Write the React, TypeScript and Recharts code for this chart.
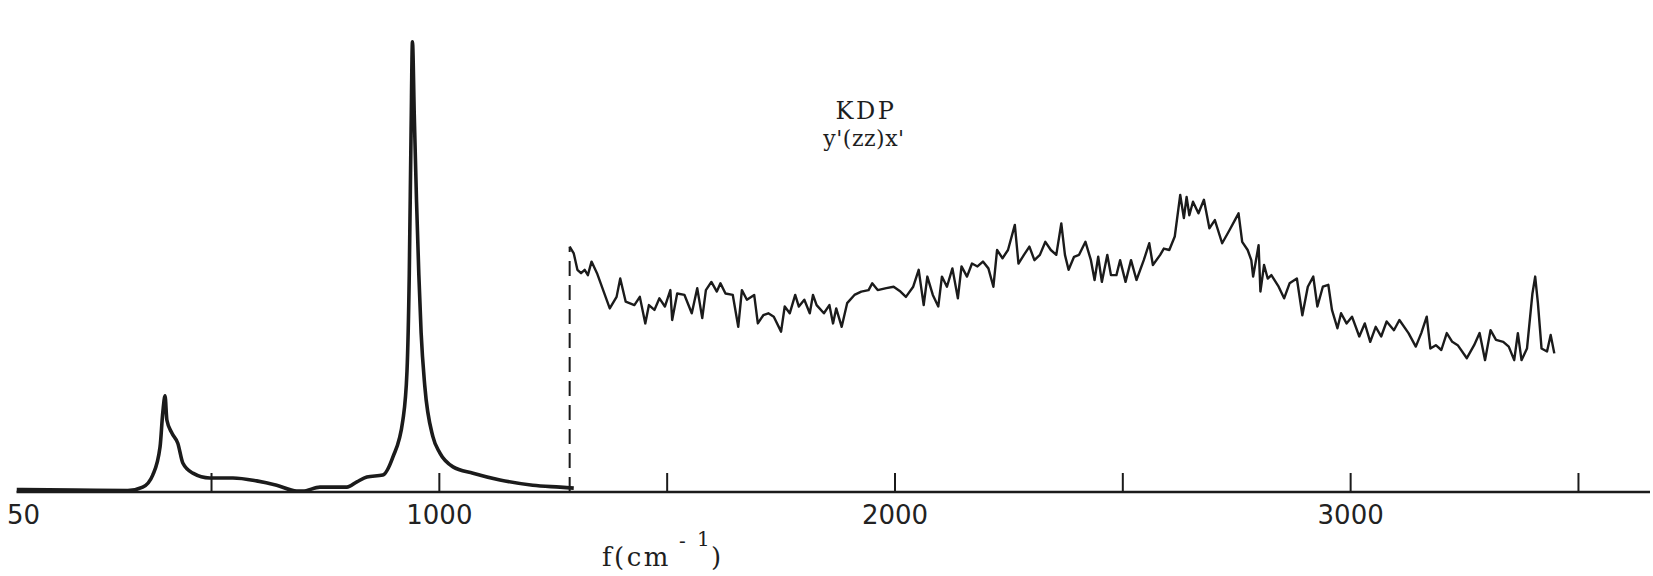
import React from 'react';
import { LineChart, Line, XAxis, YAxis, Customized } from 'recharts';

if (typeof document !== 'undefined') {
  document.body.style.margin = '0';
}

// x: wavenumber f (cm^-1), y: relative Raman intensity (0-100 of plot height)
const X_DOMAIN: [number, number] = [72, 3657];
const Y_DOMAIN: [number, number] = [0, 100];

const tickValues = [72, 500, 1000, 1500, 2000, 2500, 3000, 3500];
const tickLabels = ['50', '', '1000', '', '2000', '', '3000', ''];

// Low-frequency part (thick trace)
const lowX = [72, 200, 316, 349, 371, 387, 393, 398, 402, 413, 426, 437, 459, 496, 547, 599, 643, 687, 700, 738, 797, 819, 841, 876, 898, 920, 929, 934, 938, 941, 945, 950, 955, 960, 968, 986, 1001, 1030, 1074, 1133, 1205, 1265, 1295];
const lowY = [0.5, 0.4, 0.3, 1.0, 3.5, 9.3, 16.4, 19.9, 14.9, 12.2, 10.1, 6.0, 3.9, 2.9, 2.9, 2.3, 1.4, 0.2, 0.2, 1.0, 1.0, 2.1, 3.1, 3.5, 7.2, 14.9, 25, 45, 75, 93.2, 78, 60, 45, 33, 22, 11.4, 8.1, 5.2, 3.9, 2.5, 1.4, 1.0, 0.8];

// High-frequency part (amplified, thin noisy trace)
const highX = [1286, 1295, 1303, 1311, 1319, 1326, 1334, 1346, 1374, 1389, 1397, 1409, 1428, 1440, 1452, 1460, 1472, 1483, 1495, 1507, 1511, 1522, 1538, 1554, 1566, 1577, 1585, 1597, 1609, 1617, 1628, 1644, 1656, 1664, 1675, 1691, 1699, 1711, 1722, 1734, 1750, 1758, 1769, 1781, 1789, 1801, 1813, 1820, 1828, 1844, 1856, 1864, 1871, 1883, 1895, 1911, 1926, 1942, 1950, 1962, 1981, 1997, 2012, 2024, 2040, 2052, 2063, 2071, 2083, 2095, 2103, 2114, 2126, 2138, 2146, 2158, 2169, 2181, 2193, 2205, 2216, 2224, 2236, 2248, 2263, 2271, 2283, 2295, 2306, 2318, 2330, 2342, 2354, 2365, 2373, 2381, 2393, 2404, 2418, 2430, 2438, 2446, 2454, 2466, 2474, 2486, 2494, 2506, 2518, 2530, 2546, 2558, 2566, 2582, 2590, 2602, 2614, 2626, 2634, 2640, 2646, 2654, 2666, 2678, 2690, 2702, 2718, 2734, 2746, 2754, 2762, 2774, 2782, 2786, 2798, 2802, 2810, 2818, 2826, 2842, 2854, 2866, 2882, 2894, 2906, 2918, 2927, 2939, 2951, 2959, 2971, 2979, 2991, 3003, 3019, 3031, 3043, 3055, 3067, 3079, 3095, 3107, 3127, 3143, 3155, 3167, 3175, 3187, 3199, 3211, 3223, 3235, 3255, 3271, 3283, 3295, 3307, 3319, 3335, 3347, 3359, 3367, 3375, 3387, 3399, 3405, 3411, 3419, 3431, 3439, 3447];
const highY = [50.8, 49.4, 46.0, 45.3, 46.0, 44.9, 47.7, 45.3, 38.0, 40.4, 44.2, 39.4, 38.7, 40.4, 34.9, 38.7, 37.7, 40.1, 38.4, 41.8, 35.6, 41.1, 40.8, 37.0, 42.2, 36.0, 41.8, 43.5, 41.5, 43.2, 41.1, 40.8, 34.2, 41.8, 39.8, 40.8, 34.9, 36.6, 37.0, 36.3, 33.2, 38.4, 37.0, 40.8, 38.4, 39.8, 37.0, 40.8, 38.7, 37.0, 38.7, 34.9, 38.0, 34.2, 39.1, 40.8, 41.5, 41.8, 43.2, 41.8, 42.2, 42.5, 41.5, 40.4, 42.5, 46.0, 38.7, 44.6, 40.8, 38.4, 44.6, 42.5, 46.3, 40.1, 46.7, 44.6, 47.3, 46.7, 47.7, 46.3, 42.5, 50.1, 48.4, 50.1, 55.3, 47.3, 49.1, 50.8, 48.0, 49.1, 51.8, 50.1, 49.1, 55.6, 49.1, 46.0, 48.7, 49.1, 51.8, 48.0, 43.9, 48.7, 43.5, 49.1, 44.9, 44.9, 48.0, 43.5, 48.0, 43.9, 48.0, 51.5, 47.0, 49.1, 50.4, 50.1, 52.9, 61.5, 56.7, 61.1, 57.3, 60.1, 57.7, 60.5, 54.6, 56.3, 51.5, 54.2, 56.3, 57.7, 51.8, 50.1, 48.0, 44.6, 51.1, 41.5, 47.0, 44.2, 44.9, 42.5, 40.1, 43.2, 44.2, 36.6, 42.5, 44.6, 38.4, 42.5, 42.9, 37.7, 33.9, 37.0, 34.9, 36.3, 32.2, 34.9, 31.1, 34.2, 32.2, 35.3, 33.5, 35.6, 32.9, 30.1, 32.9, 36.3, 29.7, 30.4, 29.4, 32.9, 31.1, 30.4, 27.7, 30.4, 32.9, 27.3, 33.5, 31.5, 31.1, 30.1, 27.3, 32.9, 27.3, 29.7, 41.1, 44.6, 39.1, 29.7, 29.1, 32.5, 28.7];

// Dashed join line at the gain change
const joinX = [1286, 1286];
const joinY = [0, 50.8];

const lowData = lowX.map((x, i) => ({ x, y: lowY[i] }));
const highData = highX.map((x, i) => ({ x, y: highY[i] }));
const joinData = joinX.map((x, i) => ({ x, y: joinY[i] }));

const INK = '#1b1b1b';

const Tick = (props: any) => {
  const { x, y, payload } = props;
  const idx = tickValues.indexOf(payload.value);
  const label = idx >= 0 ? tickLabels[idx] : '';
  const isFirst = idx === 0;
  return (
    <g>
      {!isFirst && <line x1={x} x2={x} y1={y} y2={y - 19} stroke={INK} strokeWidth={2} />}
      {label && (
        <text
          x={isFirst ? x - 9.5 : x}
          y={y + 32}
          textAnchor={isFirst ? 'start' : 'middle'}
          fontFamily="DejaVu Sans"
          fontSize={26}
          fill="#222"
        >
          {label}
        </text>
      )}
    </g>
  );
};

const Annotations = () => (
  <g>
    <text x={866} y={119} textAnchor="middle" fontFamily="DejaVu Serif" fontSize={24} letterSpacing={2.5} fill="#1e1e1e">KDP</text>
    <text x={864} y={146} textAnchor="middle" fontFamily="DejaVu Serif" fontSize={22} letterSpacing={0.5} fill="#1e1e1e">y'(zz)x'</text>
    <text x={602} y={566} fontFamily="DejaVu Serif" fontSize={26} letterSpacing={2.5} fill="#1e1e1e">f(cm</text>
    <text x={679} y={548} fontFamily="DejaVu Serif" fontSize={20} fill="#1e1e1e">-</text>
    <text x={697} y={546} fontFamily="DejaVu Serif" fontSize={20} fill="#1e1e1e">1</text>
    <text x={711} y={566} fontFamily="DejaVu Serif" fontSize={26} fill="#1e1e1e">)</text>
  </g>
);

export default function App() {
  return (
    <div style={{ width: 1653, height: 576, background: '#fff' }}>
      <LineChart width={1653} height={576} margin={{ top: 9, right: 3, bottom: 24, left: 16.5 }}>
        <XAxis
          dataKey="x"
          type="number"
          domain={X_DOMAIN}
          ticks={tickValues}
          interval={0}
          tick={<Tick />}
          tickLine={false}
          tickSize={0}
          tickMargin={0}
          height={60}
          axisLine={{ stroke: INK, strokeWidth: 2.5 }}
          allowDataOverflow
        />
        <YAxis
          type="number"
          domain={Y_DOMAIN}
          width={0}
          tick={false}
          tickLine={false}
          axisLine={{ stroke: INK, strokeWidth: 3 }}
          allowDataOverflow
        />
        <Line data={lowData} dataKey="y" type="monotone" stroke={INK} strokeWidth={3.6} dot={false} isAnimationActive={false} />
        <Line data={joinData} dataKey="y" type="linear" stroke={INK} strokeWidth={2} strokeDasharray="15 9" dot={false} isAnimationActive={false} />
        <Line data={highData} dataKey="y" type="linear" stroke={INK} strokeWidth={2.4} strokeLinejoin="round" dot={false} isAnimationActive={false} />
        <Customized component={Annotations} />
      </LineChart>
    </div>
  );
}
